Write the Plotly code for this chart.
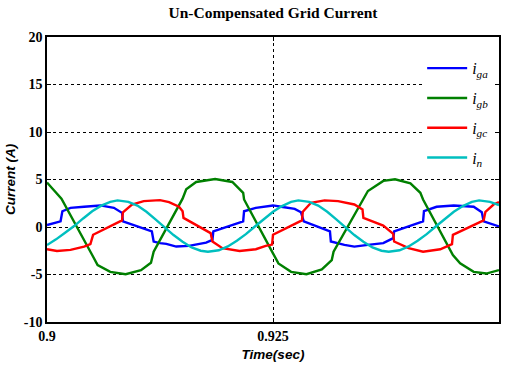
import plotly.graph_objects as go

# ---- data ----
t_ga = [0.9000, 0.9015, 0.9017, 0.9026, 0.9041, 0.9059, 0.9074, 0.9083, 0.9084, 0.9107,
        0.9116, 0.9118, 0.9125, 0.9132, 0.9143, 0.9157, 0.9176, 0.9183, 0.9184, 0.9217,
        0.9218, 0.9231, 0.9242, 0.9250, 0.9259, 0.9274, 0.9281, 0.9284, 0.9313, 0.9314,
        0.9329, 0.9340, 0.9355, 0.9372, 0.9383, 0.9384, 0.9416, 0.9417, 0.9431, 0.9450,
        0.9472, 0.9481, 0.9483, 0.9500]
i_ga = [0.20, 0.60, 1.66, 2.02, 2.13, 2.27, 2.02, 1.49, 0.60, -0.21,
        -0.47, -1.53, -1.70, -1.78, -2.06, -1.99, -1.64, -1.35, -0.47, 0.60,
        1.66, 2.02, 2.19, 2.27, 2.13, 1.91, 1.55, 0.60, -0.47, -1.53,
        -1.88, -2.06, -1.88, -1.70, -1.17, -0.47, 0.60, 1.66, 2.13, 2.27,
        2.13, 1.55, 0.60, 0.06]

t_gb = [0.9000, 0.9016, 0.9050, 0.9056, 0.9070, 0.9087, 0.9104, 0.9115, 0.9118, 0.9150,
        0.9154, 0.9165, 0.9186, 0.9205, 0.9217, 0.9218, 0.9250, 0.9256, 0.9270, 0.9287,
        0.9304, 0.9315, 0.9317, 0.9351, 0.9355, 0.9372, 0.9385, 0.9402, 0.9413, 0.9416,
        0.9449, 0.9457, 0.9472, 0.9486, 0.9500]
i_gb = [4.68, 2.98, -2.95, -4.00, -4.72, -4.97, -4.54, -3.77, -2.60, 2.98,
        3.97, 4.74, 5.05, 4.74, 3.60, 2.90, -2.77, -3.83, -4.72, -4.97,
        -4.47, -3.48, -2.60, 2.98, 3.79, 4.85, 5.03, 4.60, 3.60, 2.90,
        -2.95, -3.83, -4.72, -4.90, -4.54]

t_gc = [0.9000, 0.9011, 0.9026, 0.9041, 0.9048, 0.9051, 0.9083, 0.9084, 0.9094, 0.9107,
        0.9125, 0.9135, 0.9146, 0.9150, 0.9151, 0.9181, 0.9183, 0.9194, 0.9213, 0.9231,
        0.9242, 0.9249, 0.9250, 0.9282, 0.9283, 0.9292, 0.9307, 0.9322, 0.9340, 0.9349,
        0.9350, 0.9372, 0.9383, 0.9384, 0.9400, 0.9416, 0.9435, 0.9448, 0.9449, 0.9483,
        0.9485, 0.9494, 0.9500]
i_gc = [-2.34, -2.52, -2.41, -2.06, -1.80, -0.82, 0.70, 1.55, 2.37, 2.72,
        2.83, 2.62, 2.13, 1.66, 0.96, -0.64, -1.53, -2.23, -2.52, -2.34,
        -1.99, -1.85, -0.82, 0.70, 1.60, 2.55, 2.80, 2.72, 2.37, 1.84,
        0.96, 0.14, -0.71, -1.53, -2.23, -2.60, -2.34, -1.80, -0.82, 0.70,
        1.60, 2.37, 2.62]

t_n = [0.9000, 0.9010, 0.9020, 0.9030, 0.9040, 0.9050, 0.9060, 0.9070, 0.9078, 0.9090,
       0.9100, 0.9110, 0.9120, 0.9130, 0.9140, 0.9150, 0.9160, 0.9170, 0.9178, 0.9190,
       0.9200, 0.9210, 0.9220, 0.9230, 0.9240, 0.9250, 0.9260, 0.9270, 0.9278, 0.9290,
       0.9300, 0.9310, 0.9320, 0.9330, 0.9340, 0.9350, 0.9360, 0.9370, 0.9378, 0.9390,
       0.9400, 0.9410, 0.9420, 0.9430, 0.9440, 0.9450, 0.9460, 0.9470, 0.9478, 0.9490,
       0.9500]
i_n = [-1.90, -1.30, -0.60, 0.10, 0.90, 1.65, 2.25, 2.65, 2.80, 2.65,
       2.25, 1.60, 0.80, -0.05, -0.85, -1.55, -2.15, -2.50, -2.60, -2.45,
       -2.05, -1.45, -0.75, 0.05, 0.85, 1.60, 2.20, 2.65, 2.80, 2.65,
       2.25, 1.60, 0.80, -0.05, -0.85, -1.55, -2.15, -2.50, -2.60, -2.45,
       -2.05, -1.45, -0.75, 0.05, 0.85, 1.60, 2.20, 2.65, 2.80, 2.65,
       2.30]

series_names = ["<i>i</i><sub><i>ga</i></sub>", "<i>i</i><sub><i>gb</i></sub>",
                "<i>i</i><sub><i>gc</i></sub>", "<i>i</i><sub><i>n</i></sub>"]
series_t = [t_ga, t_gb, t_gc, t_n]
series_y = [i_ga, i_gb, i_gc, i_n]
colors = ["#0000FF", "#008000", "#FF0000", "#00BFBF"]

x_ticks = [0.9, 0.925, 0.95]
x_tick_text = ["0.9", "0.925", "0.95\u00a0"]
y_ticks = [-10, -5, 0, 5, 10, 15, 20]
y_tick_text = ["-10", "-5", "0", "5", "10", "15", "20"]

fig = go.Figure()
for name, tx, ty, c in zip(series_names, series_t, series_y, colors):
    fig.add_trace(go.Scatter(x=tx, y=ty, mode="lines", name=name, legendgroup=name,
                             line=dict(color=c, width=2.4)))

serif = "Liberation Serif, Times New Roman, serif"
sans = "Liberation Sans, Arial, sans-serif"

fig.update_layout(
    width=512, height=371,
    margin=dict(l=47, r=13, t=37, b=49),
    paper_bgcolor="white", plot_bgcolor="white",
    title=dict(text="<b>Un-Compensated Grid Current</b>", x=0.5, xref="paper",
               y=0.965, yanchor="middle",
               font=dict(family=serif, size=15.5, color="black")),
    showlegend=True,
    legend=dict(x=0.83, y=0.95, xanchor="left", yanchor="top",
                bgcolor="white", borderwidth=0, tracegroupgap=6,
                traceorder="grouped", itemwidth=40,
                font=dict(family=serif, size=16, color="black")),
    xaxis=dict(range=[0.9, 0.95], tickvals=x_ticks, ticktext=x_tick_text,
               automargin=False,
               showline=True, linecolor="black", linewidth=1.5, mirror="ticks",
               ticks="inside", ticklen=4, tickcolor="black",
               showgrid=True, gridcolor="black", gridwidth=1, griddash="3px,3px",
               zeroline=False,
               tickfont=dict(family=serif, size=14, color="black", weight="bold"),
               title=dict(text="<b><i>Time(sec)</i></b>", standoff=7,
                          font=dict(family=sans, size=13.5, color="black"))),
    yaxis=dict(range=[-10, 20], tickvals=y_ticks, ticktext=y_tick_text,
               automargin=False,
               showline=True, linecolor="black", linewidth=1.5, mirror="ticks",
               ticks="inside", ticklen=4, tickcolor="black",
               showgrid=True, gridcolor="black", gridwidth=1, griddash="3px,3px",
               zeroline=False,
               tickfont=dict(family=serif, size=14, color="black", weight="bold"),
               title=dict(text="<b><i>Current (A)</i></b>", standoff=5,
                          font=dict(family=sans, size=13.5, color="black"))),
)

# remove the browser's default 8px page margin so the figure fills the window
fig.write_html("out.html", config={"displayModeBar": False},
               post_script="document.body.style.margin='0';")
